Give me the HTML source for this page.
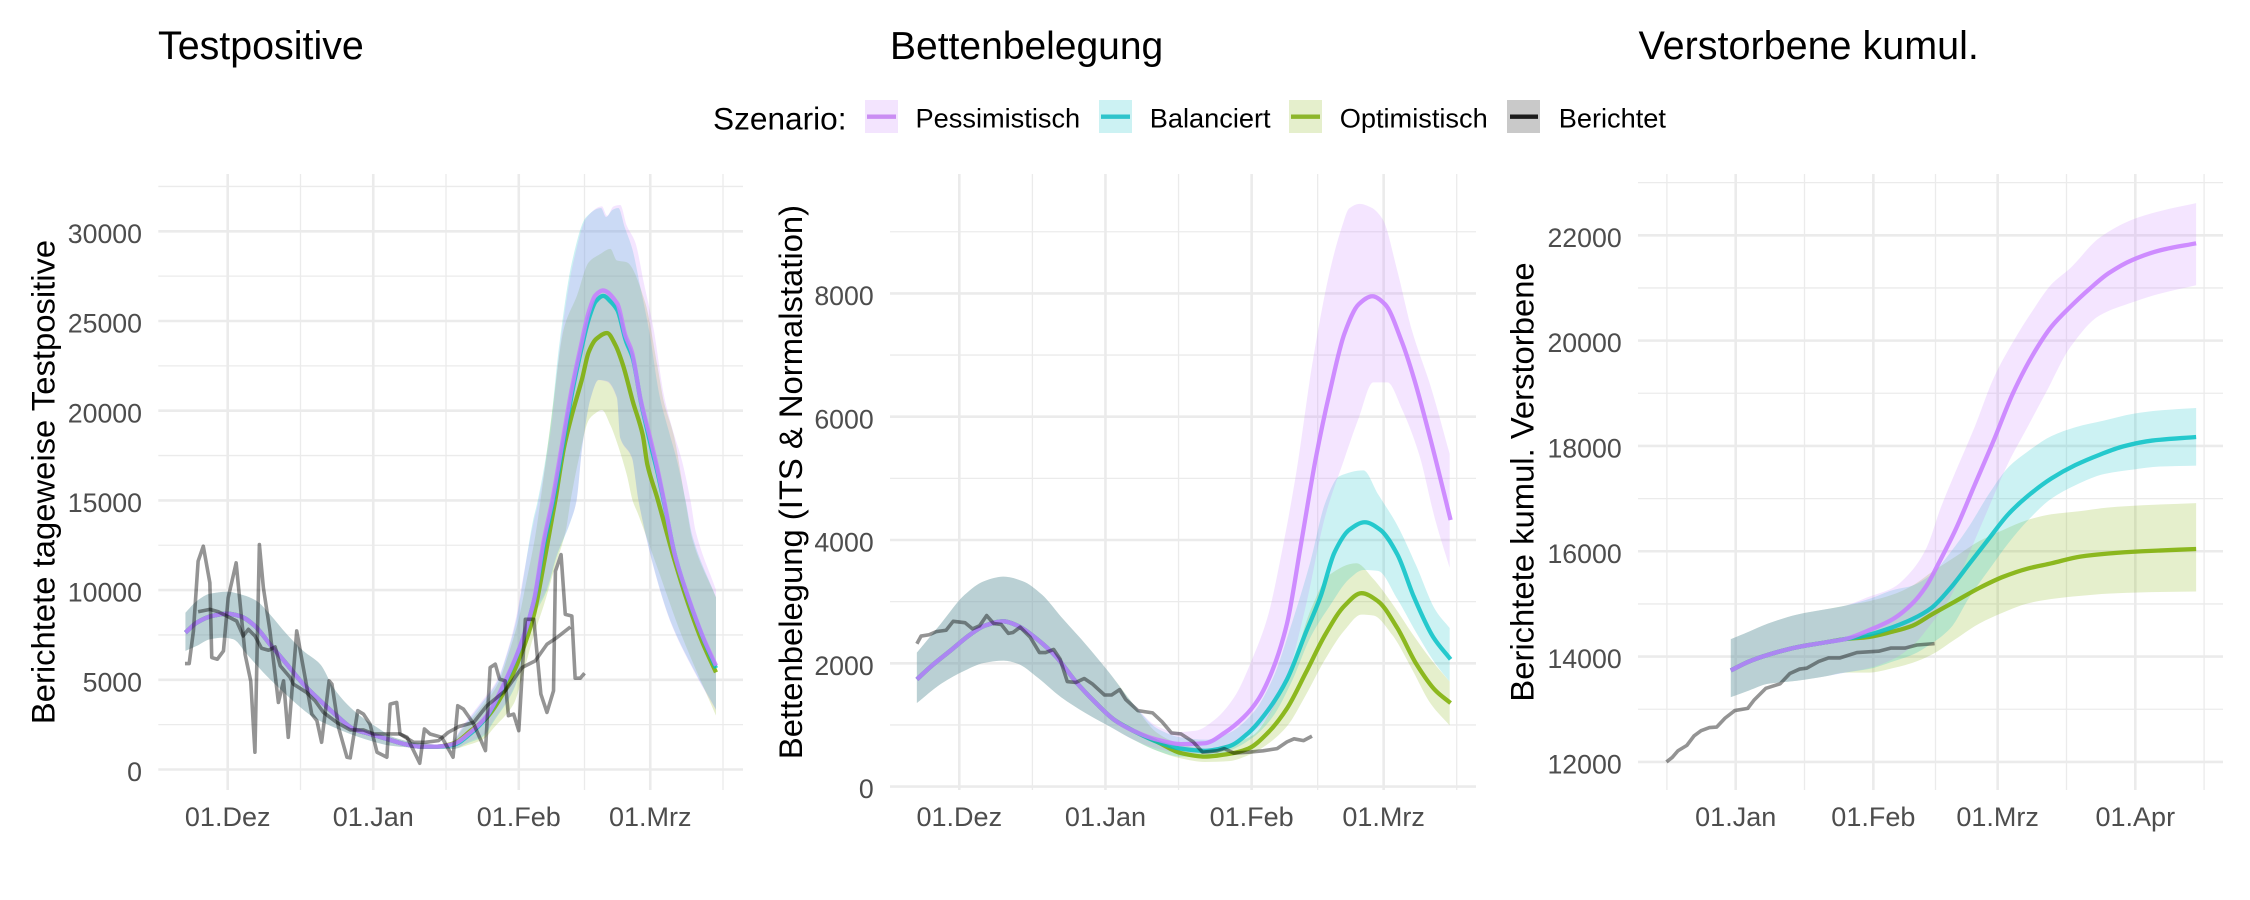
<!DOCTYPE html>
<html lang="de">
<head>
<meta charset="utf-8">
<title>Szenarien: Testpositive, Bettenbelegung, Verstorbene</title>
<style>
html,body{margin:0;padding:0;background:#fff;width:2250px;height:900px;overflow:hidden}
svg{display:block;font-family:"Liberation Sans",Arial,sans-serif}
</style>
</head>
<body>
<svg id="chart" xmlns="http://www.w3.org/2000/svg" width="2250" height="900" viewBox="0 0 2250 900">
  <rect x="0" y="0" width="2250" height="900" fill="#ffffff"/>
  <g id="panels"></g>
  <text x="158" y="59" font-size="39.4" fill="#000">Testpositive</text>
  <text x="890" y="59" font-size="39" fill="#000">Bettenbelegung</text>
  <text x="1638.5" y="59" font-size="39.5" fill="#000">Verstorbene kumul.</text>
  <text transform="translate(54.3,482) rotate(-90)" text-anchor="middle" font-size="32.8" fill="#000">Berichtete tageweise Testpositive</text>
  <text transform="translate(801.8,482) rotate(-90)" text-anchor="middle" font-size="32.8" fill="#000">Bettenbelegung (ITS &amp; Normalstation)</text>
  <text transform="translate(1533.6,482) rotate(-90)" text-anchor="middle" font-size="32.8" fill="#000">Berichtete kumul. Verstorbene</text>
  <g>
    <text x="713" y="129.3" font-size="31.6" fill="#000">Szenario:</text>
    <g>
      <rect x="865" y="100" width="33" height="33" fill="#F3E4FE"/>
      <line x1="867" x2="896" y1="116.7" y2="116.7" stroke="#CA8DF3" stroke-width="4.4"/>
      <text x="915.5" y="127.7" font-size="27.2" fill="#000">Pessimistisch</text>
    </g>
    <g>
      <rect x="1099" y="100" width="33" height="33" fill="#CCF2F3"/>
      <line x1="1101" x2="1130" y1="116.7" y2="116.7" stroke="#2EC4CB" stroke-width="4.4"/>
      <text x="1149.7" y="127.7" font-size="27.2" fill="#000">Balanciert</text>
    </g>
    <g>
      <rect x="1289" y="100" width="33" height="33" fill="#E5EFCC"/>
      <line x1="1291" x2="1320" y1="116.7" y2="116.7" stroke="#8DB62B" stroke-width="4.4"/>
      <text x="1339.7" y="127.7" font-size="27.2" fill="#000">Optimistisch</text>
    </g>
    <g>
      <rect x="1507" y="100" width="33" height="33" fill="#C9C9C9"/>
      <line x1="1510" x2="1538" y1="116.7" y2="116.7" stroke="#1C1C1C" stroke-width="4.4"/>
      <text x="1558.7" y="127.7" font-size="27.2" fill="#000">Berichtet</text>
    </g>
  </g>
</svg>
<script>
// ---------- Panel 1: Testpositive (days since 01.Dez) ----------
const p1MajorDays = [0, 31, 62, 90];
const p1MinorDays = [15.5, 46.5, 76, 105.5];
const p1TickLabels = ['01.Dez', '01.Jan', '01.Feb', '01.Mrz'];
const p1YTicks = [0, 5000, 10000, 15000, 20000, 25000, 30000];
const p1YMinor = [2500, 7500, 12500, 17500, 22500, 27500, 32500];

const p1UpShareDays = [-9, -6.6, -3.8, -0.2, 3.3, 6.2, 9, 12.6, 16.1, 19.7, 22.5, 25.4, 28.2, 31.8, 35.3, 39.6, 43.1, 46.7];
const p1UpShareVals = [8740, 9388, 9795, 9907, 9722, 9388, 8647, 7536, 6610, 5869, 4573, 3647, 2999, 2351, 1795, 1517, 1425, 1332];
const p1LowShareDays = [-9, -6.6, -3.8, -0.9, 1.2, 4.1, 7.6, 11.2, 14.7, 18.3, 21.8, 26.1, 30.3, 34.6, 38.2, 43.1, 48.1];
const p1LowShareVals = [6610, 6888, 7259, 7351, 7259, 6425, 5406, 4480, 3647, 2906, 2443, 1980, 1610, 1332, 1240, 1146, 1146];

const p1PessUpDays = p1UpShareDays.concat([50.2, 53.8, 57.4, 59.8, 61.6, 62.7, 65.2, 66.2, 68.7, 70.9, 73.7, 76.5, 79.7, 80.8, 82.2, 83.6, 85, 86.8, 88.6, 90.7, 92.9, 94.7, 96.8, 98.6, 99.7, 104]);
const p1PessUpVals = p1UpShareVals.concat([2500, 3700, 5000, 6800, 8700, 10400, 13833, 14943, 18647, 23832, 28370, 30777, 31389, 30870, 31389, 31463, 30314, 29388, 27166, 24573, 20870, 19017, 17165, 14943, 13249, 10016]);
const p1BalUpDays = p1UpShareDays.concat([50.2, 53.8, 57.4, 59.8, 61.6, 62.7, 65, 66, 68.5, 70.7, 73.4, 76.3, 79.5, 80.6, 82, 83.2, 84.6, 86.2, 87.8, 89.8, 92, 93.8, 95.8, 97.6, 99, 104]);
const p1BalUpVals = p1UpShareVals.concat([2400, 3600, 4900, 6700, 8500, 10200, 13833, 14943, 18647, 23832, 28370, 30777, 31300, 30800, 31200, 31300, 30200, 29000, 27000, 24400, 20800, 19000, 17100, 14900, 13000, 9600]);
const p1OptUpDays = p1UpShareDays.concat([50.2, 53.8, 57.4, 60, 62, 63.4, 65.5, 66.6, 69.1, 71.6, 74.4, 76.9, 79.4, 81.5, 82.9, 85, 88.9, 91.5, 92.9, 95, 97.5, 99, 104]);
const p1OptUpVals = p1UpShareVals.concat([2300, 3400, 4700, 6600, 8400, 10200, 13000, 14943, 19943, 24573, 26425, 28277, 28740, 29018, 28370, 28277, 26055, 22536, 20500, 18647, 14943, 12800, 9600]);

const p1PessLowDays = p1LowShareDays.concat([51, 54.5, 56.6, 61, 63, 64.5, 68, 70.1, 73, 74.3, 75.5, 77.3, 79, 80.8, 82.9, 83.6, 86.1, 87.5, 91.5, 94.6, 99.7, 104]);
const p1PessLowVals = p1LowShareVals.concat([1500, 1950, 2720, 4573, 6425, 8277, 10129, 11981, 13833, 14943, 17906, 20684, 21703, 21610, 20684, 18462, 17351, 14943, 10514, 8026, 5291, 3300]);
const p1BalLowDays = p1LowShareDays.concat([51, 54.5, 56.6, 61, 63, 64.5, 68, 70.1, 73, 74.3, 75.5, 77.3, 79, 80.8, 82.9, 83.6, 86.1, 87.5, 91.5, 94.6, 99.7, 104]);
const p1BalLowVals = p1LowShareVals.concat([1450, 1850, 2650, 4500, 6300, 8100, 10000, 11900, 13800, 15000, 17950, 20700, 21720, 21650, 20750, 18500, 17400, 15000, 10550, 8080, 5350, 3350]);
const p1OptLowDays = p1LowShareDays.concat([51, 54.5, 56.6, 61, 63, 65, 67.5, 69.6, 72, 73, 74.8, 76.9, 78.3, 79.7, 81.5, 82.6, 85, 86.3, 87.4, 91.5, 96.6, 104]);
const p1OptLowVals = p1LowShareVals.concat([1350, 1700, 2300, 3700, 5400, 7300, 9300, 11200, 13300, 14943, 17351, 19480, 19851, 20036, 19202, 18462, 16425, 14943, 14244, 11260, 7530, 3000]);

const p1MeanShareDays = [-9, -6.6, -3.4, -0.2, 2.6, 5.8, 9, 12.6, 16.1, 19.7, 23.2, 26.8, 30.3, 33.9, 37.5, 41, 44.6];
const p1MeanShareVals = [7630, 8184, 8555, 8685, 8555, 8000, 6981, 5869, 4758, 3832, 3000, 2258, 1980, 1703, 1425, 1277, 1277];
const p1PessDays = p1MeanShareDays.concat([48.1, 51.7, 55.2, 58.8, 62.3, 65.2, 67.3, 69.1, 71.2, 73.3, 75.1, 76.9, 78.3, 79.9, 83, 84.7, 86.1, 87.9, 90, 91.5, 92.9, 95.2, 98.2, 101.2, 104]);
const p1PessVals = p1MeanShareVals.concat([1425, 2073, 2999, 4758, 6888, 9388, 12722, 14943, 18091, 21240, 23462, 25500, 26425, 26703, 25962, 24203, 23277, 20684, 18462, 16800, 15035, 12000, 9518, 7405, 5788]);
const p1BalDays = p1MeanShareDays.concat([48.1, 51.7, 55.2, 58.8, 62.3, 65.2, 67.5, 69.3, 71.4, 73.5, 75.3, 77, 78.4, 80, 81.5, 83, 84.8, 86.3, 88, 90, 91.6, 93, 95.3, 98.3, 101.3, 104]);
const p1BalVals = p1MeanShareVals.concat([1380, 2000, 2950, 4700, 6850, 9350, 12700, 14900, 18050, 21200, 23400, 25200, 26100, 26400, 26100, 25600, 23900, 22900, 20500, 18200, 16500, 14800, 11900, 9400, 7300, 5650]);
const p1OptDays = p1MeanShareDays.concat([48.1, 51.7, 55.2, 58.8, 62.3, 65.2, 67.5, 69.8, 71.6, 73.3, 75.5, 76.9, 78.5, 80.8, 82.6, 84.2, 86.3, 88.4, 89.4, 91.5, 95.2, 98.2, 101.2, 104]);
const p1OptVals = p1MeanShareVals.concat([1450, 2150, 2900, 4300, 6300, 8600, 11700, 15035, 17906, 19758, 21795, 23277, 24000, 24332, 23647, 22536, 20500, 18647, 16980, 15128, 11633, 9146, 7031, 5416]);

const p1RawDays = [-9.1, -8.2, -7.3, -6.3, -5.2, -3.8, -3.4, -2.2, -0.9, 0.1, 1.8, 3.7, 4.9, 5.8, 6.75, 7.6, 9, 10.8, 11.9, 12.9, 14.7, 16.1, 17.9, 19, 20, 21.6, 22.2, 23.6, 25.4, 26.1, 27.7, 28.9, 30.3, 31.8, 33.9, 34.6, 36, 36.7, 38.2, 40.9, 41.9, 43.1, 45.6, 48, 49, 50.2, 52.4, 54.9, 55.9, 57, 57.9, 59.1, 59.8, 60.9, 62, 63.4, 65.2, 66.7, 68, 69.4, 69.8, 71, 71.9, 73.3, 74, 75.1, 76];
const p1RawVals = [5907, 5907, 7722, 11611, 12444, 10407, 6240, 6147, 6610, 9574, 11518, 6425, 4943, 962, 12537, 10129, 7722, 3740, 4943, 1795, 7722, 5684, 3091, 2721, 1517, 4943, 4758, 2351, 684, 647, 3277, 3091, 2536, 962, 684, 3647, 3740, 1980, 1795, 351, 2258, 1980, 1795, 684, 3554, 3369, 2536, 1054, 5684, 5870, 5036, 4943, 2999, 3091, 2165, 8370, 8370, 4203, 3184, 4388, 11055, 11981, 8648, 8555, 5092, 5092, 5370];
const p1SmoothDays = [-6.3, -3.8, -2, -0.2, 1.9, 3.3, 4.4, 5.8, 7.2, 8.7, 10.1, 11.2, 13.3, 14, 16.8, 18.6, 20.4, 23.2, 26.1, 28.9, 31.1, 33.9, 36.7, 39.6, 42.1, 44.9, 47, 49.2, 52.4, 55.2, 59.1, 62.7, 65.5, 68, 70.1, 73];
const p1SmoothVals = [8795, 8925, 8795, 8555, 8277, 7444, 7814, 7444, 6758, 6647, 6832, 5777, 5129, 4758, 4295, 3832, 3184, 2629, 2203, 2203, 1980, 1980, 1980, 1517, 1517, 1610, 2073, 2388, 2629, 3554, 4388, 5684, 6055, 6981, 7351, 7944];

// ---------- Panel 2: Bettenbelegung (days since 01.Dez) ----------
const p2MajorDays = [0, 31, 62, 90];
const p2MinorDays = [15.5, 46.5, 76, 105.5];
const p2TickLabels = ['01.Dez', '01.Jan', '01.Feb', '01.Mrz'];
const p2YTicks = [0, 2000, 4000, 6000, 8000];
const p2YMinor = [1000, 3000, 5000, 7000, 9000];

const p2UpShareDays = [-9, -3.9, 1.2, 5.3, 9.4, 13.4, 17.5, 21.6, 26.7, 31.8, 36.9];
const p2UpShareVals = [2173, 2644, 3115, 3333, 3405, 3333, 3115, 2753, 2318, 1848, 1340];
const p2LowShareDays = [-9, -3.9, 1.2, 5.3, 9.4, 12.4, 16.5, 21.6, 26.7, 31.8, 36.9];
const p2LowShareVals = [1355, 1667, 1884, 2007, 2043, 1992, 1775, 1449, 1196, 978, 761];
const p2PessUpDays = p2UpShareDays.concat([42, 46, 50.1, 54.2, 58.3, 62.3, 65.4, 68.4, 71.5, 75, 78.6, 81.2, 82.7, 84.9, 87.3, 89.8, 92.9, 95.9, 100, 104]);
const p2PessUpVals = p2UpShareVals.concat([978, 884, 906, 1087, 1449, 2101, 2753, 3803, 5107, 6918, 8366, 9091, 9380, 9453, 9395, 9200, 8366, 7425, 6483, 5397]);
const p2BalUpDays = p2UpShareDays.concat([42, 47, 52.1, 57.2, 62.3, 66.4, 70.5, 74.5, 77.6, 80.6, 85.7, 88.8, 92.9, 96.9, 101, 104]);
const p2BalUpVals = p2UpShareVals.concat([942, 798, 761, 870, 1196, 1739, 2644, 3659, 4600, 5035, 5129, 4745, 4238, 3586, 2862, 2572]);
const p2OptUpDays = p2UpShareDays.concat([42, 47, 52.1, 57.2, 62.3, 66.4, 70.5, 74.5, 78.6, 84.2, 87.8, 91.8, 95.9, 100, 104]);
const p2OptUpVals = p2UpShareVals.concat([870, 689, 616, 689, 834, 1268, 1920, 2862, 3441, 3622, 3369, 2970, 2500, 2065, 1703]);
const p2PessLowDays = p2LowShareDays.concat([42, 47, 52.1, 56.2, 61.3, 65.4, 69.5, 73.5, 77.6, 81.7, 84.7, 87.8, 90.8, 93.9, 97.5, 101, 104]);
const p2PessLowVals = p2LowShareVals.concat([616, 544, 544, 653, 834, 1124, 1775, 2934, 4383, 5324, 5976, 6556, 6556, 6121, 5396, 4310, 3550]);
const p2BalLowDays = p2LowShareDays.concat([42, 47, 52.1, 57.2, 62.3, 66.4, 70.5, 74.5, 78.6, 82.7, 85.7, 88.8, 92.9, 96.9, 101, 104]);
const p2BalLowVals = p2LowShareVals.concat([580, 486, 486, 580, 798, 1124, 1703, 2427, 2934, 3369, 3514, 3499, 3043, 2500, 1993, 1703]);
const p2OptLowDays = p2LowShareDays.concat([42, 47, 52.1, 57.2, 61.3, 65.4, 69.5, 73.5, 77.6, 81.7, 85.3, 87.8, 91.8, 95.9, 100, 104]);
const p2OptLowVals = p2LowShareVals.concat([580, 457, 399, 413, 508, 689, 978, 1486, 2065, 2536, 2789, 2775, 2463, 1920, 1341, 993]);

const p2MeanShareDays = [-9, -5.9, -1.8, 2.25, 5.3, 9.4, 12.4, 16.5, 20.6, 24.7, 28.7, 32.8, 36.9];
const p2MeanShareVals = [1739, 1956, 2210, 2463, 2608, 2681, 2608, 2391, 2101, 1703, 1377, 1087, 906];
const p2PessDays = p2MeanShareDays.concat([42, 47, 52.1, 56.2, 60.3, 63.4, 66.4, 69.5, 72.5, 75.6, 78.6, 81.7, 84.7, 87.6, 90.3, 93.9, 96.4, 100, 104.2]);
const p2PessVals = p2MeanShareVals.concat([761, 689, 703, 870, 1124, 1413, 1884, 2644, 3948, 5324, 6411, 7352, 7823, 7954, 7823, 7208, 6628, 5614, 4325]);
const p2BalDays = p2MeanShareDays.concat([42, 47, 52.1, 57.2, 61.3, 65.4, 69.5, 73.5, 76.6, 79.6, 82.7, 86, 89.3, 92.9, 96.4, 100.5, 104.2]);
const p2BalVals = p2MeanShareVals.concat([725, 616, 580, 653, 870, 1232, 1739, 2500, 3079, 3803, 4165, 4288, 4165, 3767, 3079, 2427, 2065]);
const p2OptDays = p2MeanShareDays.concat([42, 47, 52.1, 57.2, 61.3, 65.4, 69.5, 73.5, 77.6, 81.7, 85.3, 88.8, 92.9, 96.9, 101, 104.2]);
const p2OptVals = p2MeanShareVals.concat([725, 544, 486, 530, 616, 870, 1268, 1848, 2463, 2934, 3137, 3007, 2572, 1993, 1558, 1355]);

const p2RawDays = [-9, -8.1, -6.4, -4.9, -2.8, -1.3, 1.2, 2.8, 4.3, 5.8, 7.3, 8.9, 10.4, 11.4, 12.9, 15, 17, 18.3, 20, 21.4, 22.9, 24.7, 26.5, 28.2, 30.8, 32.3, 34, 35.3, 37.9, 41, 43, 45, 47, 49.6, 51.6, 54.7, 56.2, 58.2, 61.3, 64.4, 67.4, 69.5, 71, 73, 74.8];
const p2RawVals = [2318, 2442, 2463, 2514, 2536, 2681, 2659, 2558, 2608, 2775, 2644, 2630, 2485, 2500, 2586, 2427, 2174, 2174, 2225, 2065, 1703, 1689, 1753, 1667, 1486, 1486, 1573, 1413, 1232, 1196, 1051, 870, 855, 725, 558, 580, 616, 544, 558, 580, 616, 725, 775, 746, 819];

// ---------- Panel 3: Verstorbene kumul. (days since 01.Jan) ----------
const p3MajorDays = [0, 31, 59, 90];
const p3MinorDays = [-15.5, 15.5, 45, 74.5, 105.5];
const p3TickLabels = ['01.Jan', '01.Feb', '01.Mrz', '01.Apr'];
const p3YTicks = [12000, 14000, 16000, 18000, 20000, 22000];
const p3YMinor = [13000, 15000, 17000, 19000, 21000, 23000];

const p3ShareDays = [-1.1, 3, 7.3, 13.8, 20.3, 24.6];
const p3UpShareVals = [14331, 14475, 14627, 14797, 14898, 14966];
const p3LowShareVals = [13229, 13356, 13483, 13542, 13627, 13695];
const p3MeanShareVals = [13737, 13907, 14034, 14178, 14271, 14331];

const p3PessUpDays = p3ShareDays.concat([30, 35.4, 39.8, 43, 46.2, 49.5, 53.8, 58.1, 62.4, 66.8, 71.1, 75.4, 81.9, 89.4, 95.9, 103.7]);
const p3PessUpVals = p3UpShareVals.concat([15136, 15305, 15644, 16068, 16831, 17508, 18356, 19288, 19966, 20559, 21068, 21380, 21950, 22300, 22466, 22610]);
const p3PessLowDays = p3ShareDays.concat([30, 35.4, 39.8, 44.1, 48.4, 52.7, 57, 61.4, 65.7, 70, 75.4, 81.9, 89.4, 95.9, 103.7]);
const p3PessLowVals = p3LowShareVals.concat([13780, 13949, 14203, 14627, 15136, 15983, 16831, 17678, 18356, 19034, 19881, 20475, 20729, 20899, 21051]);
const p3BalBandDays = p3ShareDays.concat([30, 35.4, 39.8, 44.1, 48.4, 52.7, 57, 61.4, 65.7, 71.1, 76.5, 83, 89.4, 95.9, 103.7]);
const p3BalUpVals = p3UpShareVals.concat([15093, 15263, 15348, 15560, 15983, 16492, 17085, 17594, 17890, 18187, 18356, 18483, 18610, 18678, 18720]);
const p3BalLowVals = p3LowShareVals.concat([13763, 13907, 14034, 14246, 14542, 15136, 15644, 16153, 16577, 17000, 17254, 17466, 17551, 17610, 17627]);
const p3OptBandDays = p3ShareDays.concat([30, 35.4, 39.8, 44.1, 49.5, 54.9, 60.3, 65.7, 71.1, 77.6, 84, 91.6, 103.7]);
const p3OptUpVals = p3UpShareVals.concat([15051, 15178, 15348, 15602, 15899, 16195, 16407, 16593, 16703, 16763, 16831, 16873, 16915]);
const p3OptLowVals = p3LowShareVals.concat([13695, 13780, 13881, 14034, 14331, 14627, 14839, 15008, 15093, 15153, 15195, 15220, 15237]);

const p3PessDays = p3ShareDays.concat([30, 35.4, 39.8, 43, 45.7, 49.5, 53.8, 58.1, 62.4, 66.8, 71.1, 75.4, 79.7, 84, 89.4, 95.9, 103.7]);
const p3PessVals = p3MeanShareVals.concat([14500, 14712, 15009, 15348, 15771, 16407, 17255, 18102, 18992, 19712, 20263, 20645, 20983, 21280, 21534, 21721, 21848]);
const p3BalDays = p3ShareDays.concat([30, 35.4, 39.8, 44.1, 48.4, 52.7, 57, 61.4, 65.7, 71.1, 76.5, 81.9, 87.3, 93.8, 103.7]);
const p3BalVals = p3MeanShareVals.concat([14415, 14559, 14712, 14924, 15305, 15771, 16237, 16704, 17043, 17382, 17636, 17831, 17992, 18102, 18170]);
const p3OptDays = p3ShareDays.concat([30, 35.4, 39.8, 44.1, 49.5, 54.9, 60.3, 65.7, 71.1, 77.6, 84, 91.6, 103.7]);
const p3OptVals = p3MeanShareVals.concat([14373, 14475, 14585, 14797, 15051, 15305, 15517, 15670, 15771, 15899, 15958, 16000, 16043]);

const p3RawDays = [-15.6, -14.3, -13, -11, -9.4, -7.8, -5.9, -4.3, -2.4, -0.2, 2.7, 4.1, 6.8, 10, 12.2, 14.4, 16, 18.7, 20.9, 23.5, 27.3, 32.2, 34.9, 38.1, 40.8, 44.8];
const p3RawVals = [12000, 12085, 12212, 12314, 12492, 12593, 12652, 12661, 12831, 12975, 13017, 13170, 13398, 13483, 13678, 13763, 13780, 13907, 13975, 13975, 14076, 14102, 14161, 14161, 14220, 14246];

// ---------- Drawing ----------
const SVG_NS = 'http://www.w3.org/2000/svg';
const root = document.getElementById('panels');
const PANEL_TOP = 174;
const PANEL_BOTTOM = 790;
const RIBBON_ALPHA = 0.2;
const MEAN_WIDTH = 4.3;
const REPORT_WIDTH = 3.6;
const REPORT_ALPHA = 0.42;
const COLORS = { pess: '#C77CFF', bal: '#00BFC4', opt: '#7CAE00', rep: '#000000' };

function make(tag, parent, name, attrs) {
  const el = document.createElementNS(SVG_NS, tag);
  
  
  for (const k in attrs) el.setAttribute(k, attrs[k]);
  parent.appendChild(el);
  return el;
}
function toXY(days, vals, sx, sy) {
  return days.map(function (d, i) { return [sx(d), sy(vals[i])]; });
}
// Monotone cubic segments (Fritsch-Carlson) through the given pixel points.
function curveSegments(pts) {
  const n = pts.length;
  const h = [], s = [], m = new Array(n);
  for (let i = 0; i < n - 1; i++) {
    h[i] = pts[i + 1][0] - pts[i][0];
    s[i] = (pts[i + 1][1] - pts[i][1]) / h[i];
  }
  m[0] = s[0];
  m[n - 1] = s[n - 2];
  for (let i = 1; i < n - 1; i++) {
    m[i] = s[i - 1] * s[i] <= 0 ? 0 : 2 * s[i - 1] * s[i] / (s[i - 1] + s[i]);
  }
  let out = '';
  for (let i = 0; i < n - 1; i++) {
    const c1x = pts[i][0] + h[i] / 3, c1y = pts[i][1] + m[i] * h[i] / 3;
    const c2x = pts[i + 1][0] - h[i] / 3, c2y = pts[i + 1][1] - m[i + 1] * h[i] / 3;
    out += ' C' + c1x.toFixed(2) + ' ' + c1y.toFixed(2) + ' ' + c2x.toFixed(2) + ' ' + c2y.toFixed(2) + ' ' + pts[i + 1][0].toFixed(2) + ' ' + pts[i + 1][1].toFixed(2);
  }
  return out;
}
function drawRibbon(parent, name, color, upDays, upVals, lowDays, lowVals, sx, sy) {
  const up = toXY(upDays, upVals, sx, sy);
  const low = toXY(lowDays, lowVals, sx, sy).reverse();
  const d = 'M' + up[0][0].toFixed(2) + ' ' + up[0][1].toFixed(2) + curveSegments(up) +
    ' L' + low[0][0].toFixed(2) + ' ' + low[0][1].toFixed(2) + curveSegments(low) + ' Z';
  make('path', parent, name, { d: d, fill: color, 'fill-opacity': RIBBON_ALPHA, stroke: 'none' });
}
function drawMean(parent, name, color, days, vals, sx, sy, opacity) {
  const pts = toXY(days, vals, sx, sy);
  make('path', parent, name, {
    d: 'M' + pts[0][0].toFixed(2) + ' ' + pts[0][1].toFixed(2) + curveSegments(pts),
    fill: 'none', stroke: color, 'stroke-width': MEAN_WIDTH, 'stroke-opacity': opacity, 'stroke-linejoin': 'round'
  });
}
function drawReported(parent, name, days, vals, sx, sy) {
  const pts = toXY(days, vals, sx, sy).map(function (p) { return p[0].toFixed(2) + ',' + p[1].toFixed(2); });
  make('polyline', parent, name, {
    points: pts.join(' '), fill: 'none', stroke: COLORS.rep,
    'stroke-width': REPORT_WIDTH, 'stroke-opacity': REPORT_ALPHA, 'stroke-linejoin': 'round'
  });
}
function drawAxes(g, prefix, cfg, sx, sy) {
  cfg.yMinor.forEach(function (v) {
    make('line', g, prefix + '-grid-minor-y', { x1: cfg.left, x2: cfg.right, y1: sy(v), y2: sy(v), stroke: '#EBEBEB', 'stroke-width': 1.3 });
  });
  cfg.xMinor.forEach(function (d) {
    const x = sx(d);
    if (x < cfg.left || x > cfg.right) return;
    make('line', g, prefix + '-grid-minor-x', { x1: x, x2: x, y1: PANEL_TOP, y2: PANEL_BOTTOM, stroke: '#EBEBEB', 'stroke-width': 1.3 });
  });
  cfg.yTicks.forEach(function (v) {
    make('line', g, prefix + '-grid-major-y', { x1: cfg.left, x2: cfg.right, y1: sy(v), y2: sy(v), stroke: '#EBEBEB', 'stroke-width': 2.6 });
    const t = make('text', g, prefix + '-y-tick-label', { x: cfg.left - 16.3, y: sy(v) + 11.6, 'text-anchor': 'end', 'font-size': 26.7, fill: '#4D4D4D' });
    t.textContent = String(v);
  });
  cfg.xMajor.forEach(function (d, i) {
    const x = sx(d);
    make('line', g, prefix + '-grid-major-x', { x1: x, x2: x, y1: PANEL_TOP, y2: PANEL_BOTTOM, stroke: '#EBEBEB', 'stroke-width': 2.6 });
    const t = make('text', g, prefix + '-x-tick-label', { x: x, y: 826, 'text-anchor': 'middle', 'font-size': 27, fill: '#4D4D4D' });
    t.textContent = cfg.labels[i];
  });
}

// Panel 1
(function () {
  const sx = function (d) { return 227.7 + 4.695 * d; };
  const sy = function (v) { return 769.5 - 0.01794 * v; };
  const g = make('g', root, 'panel-testpositive', {});
  drawAxes(g, 'testpositive', { left: 158.3, right: 743, yTicks: p1YTicks, yMinor: p1YMinor, xMajor: p1MajorDays, xMinor: p1MinorDays, labels: p1TickLabels }, sx, sy);
  drawRibbon(g, 'testpositive-ribbon-optimistisch', COLORS.opt, p1OptUpDays, p1OptUpVals, p1OptLowDays, p1OptLowVals, sx, sy);
  drawRibbon(g, 'testpositive-ribbon-balanciert', COLORS.bal, p1BalUpDays, p1BalUpVals, p1BalLowDays, p1BalLowVals, sx, sy);
  drawRibbon(g, 'testpositive-ribbon-pessimistisch', COLORS.pess, p1PessUpDays, p1PessUpVals, p1PessLowDays, p1PessLowVals, sx, sy);
  drawMean(g, 'testpositive-line-optimistisch', COLORS.opt, p1OptDays, p1OptVals, sx, sy, 0.85);
  drawMean(g, 'testpositive-line-balanciert', COLORS.bal, p1BalDays, p1BalVals, sx, sy, 0.82);
  drawMean(g, 'testpositive-line-pessimistisch', COLORS.pess, p1PessDays, p1PessVals, sx, sy, 0.85);
  drawReported(g, 'testpositive-line-berichtet-taeglich', p1RawDays, p1RawVals, sx, sy);
  drawReported(g, 'testpositive-line-berichtet-geglaettet', p1SmoothDays, p1SmoothVals, sx, sy);
})();

// Panel 2
(function () {
  const sx = function (d) { return 959.3 + 4.715 * d; };
  const sy = function (v) { return 786.6 - 0.06165 * v; };
  const g = make('g', root, 'panel-bettenbelegung', {});
  drawAxes(g, 'bettenbelegung', { left: 890, right: 1476, yTicks: p2YTicks, yMinor: p2YMinor, xMajor: p2MajorDays, xMinor: p2MinorDays, labels: p2TickLabels }, sx, sy);
  drawRibbon(g, 'bettenbelegung-ribbon-optimistisch', COLORS.opt, p2OptUpDays, p2OptUpVals, p2OptLowDays, p2OptLowVals, sx, sy);
  drawRibbon(g, 'bettenbelegung-ribbon-balanciert', COLORS.bal, p2BalUpDays, p2BalUpVals, p2BalLowDays, p2BalLowVals, sx, sy);
  drawRibbon(g, 'bettenbelegung-ribbon-pessimistisch', COLORS.pess, p2PessUpDays, p2PessUpVals, p2PessLowDays, p2PessLowVals, sx, sy);
  drawMean(g, 'bettenbelegung-line-optimistisch', COLORS.opt, p2OptDays, p2OptVals, sx, sy, 0.85);
  drawMean(g, 'bettenbelegung-line-balanciert', COLORS.bal, p2BalDays, p2BalVals, sx, sy, 0.82);
  drawMean(g, 'bettenbelegung-line-pessimistisch', COLORS.pess, p2PessDays, p2PessVals, sx, sy, 0.85);
  drawReported(g, 'bettenbelegung-line-berichtet', p2RawDays, p2RawVals, sx, sy);
})();

// Panel 3
(function () {
  const sx = function (d) { return 1735.7 + 4.44 * d; };
  const sy = function (v) { return 761.9 - 0.05266 * (v - 12000); };
  const g = make('g', root, 'panel-verstorbene', {});
  drawAxes(g, 'verstorbene', { left: 1638, right: 2223, yTicks: p3YTicks, yMinor: p3YMinor, xMajor: p3MajorDays, xMinor: p3MinorDays, labels: p3TickLabels }, sx, sy);
  drawRibbon(g, 'verstorbene-ribbon-optimistisch', COLORS.opt, p3OptBandDays, p3OptUpVals, p3OptBandDays, p3OptLowVals, sx, sy);
  drawRibbon(g, 'verstorbene-ribbon-balanciert', COLORS.bal, p3BalBandDays, p3BalUpVals, p3BalBandDays, p3BalLowVals, sx, sy);
  drawRibbon(g, 'verstorbene-ribbon-pessimistisch', COLORS.pess, p3PessUpDays, p3PessUpVals, p3PessLowDays, p3PessLowVals, sx, sy);
  drawMean(g, 'verstorbene-line-optimistisch', COLORS.opt, p3OptDays, p3OptVals, sx, sy, 0.85);
  drawMean(g, 'verstorbene-line-balanciert', COLORS.bal, p3BalDays, p3BalVals, sx, sy, 0.82);
  drawMean(g, 'verstorbene-line-pessimistisch', COLORS.pess, p3PessDays, p3PessVals, sx, sy, 0.85);
  drawReported(g, 'verstorbene-line-berichtet', p3RawDays, p3RawVals, sx, sy);
})();
</script>
</body>
</html>
